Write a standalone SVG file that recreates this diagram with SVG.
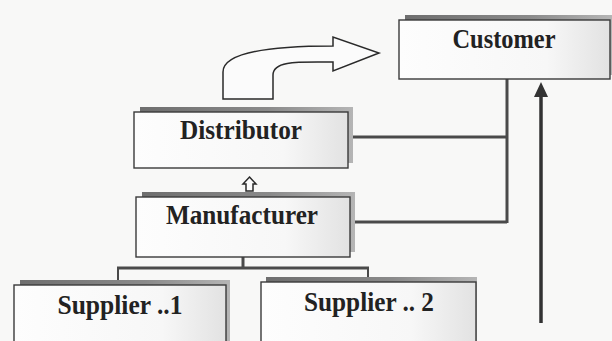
<svg xmlns="http://www.w3.org/2000/svg" width="612" height="341" viewBox="0 0 612 341">
<style>
.box{fill:url(#boxfill);stroke:#3a3a3a;stroke-width:1.4}
.shadow{fill:url(#shade)}
.lbl{font-family:"Liberation Serif","Times New Roman",serif;font-weight:bold;font-size:28px;fill:#222;text-anchor:middle}
.conn{fill:none;stroke:#4a4a4a;stroke-width:3}
.thin{fill:none;stroke:#4a4a4a;stroke-width:2}
.outline{fill:#fbfbfb;stroke:#2a2a2a;stroke-width:1.5;stroke-linejoin:miter}
</style>
<defs>
<linearGradient id="shade" x1="0" y1="0" x2="1" y2="0">
<stop offset="0" stop-color="#6e6e6e"/>
<stop offset="0.6" stop-color="#8a8a8a"/>
<stop offset="1" stop-color="#b5b5b5"/>
</linearGradient>
<linearGradient id="boxfill" x1="0" y1="0" x2="1" y2="0">
<stop offset="0" stop-color="#fdfdfd"/>
<stop offset="0.7" stop-color="#f7f7f7"/>
<stop offset="1" stop-color="#e2e2e2"/>
</linearGradient>
</defs>
<rect width="612" height="341" fill="#f8f8f7"/>

<g id="connectors">
<path class="conn" d="M350,137 H507 M350,222 H507 M507,79 V223"/>
<path class="conn" d="M243,257 V268 M117,268 H369"/>
<path class="thin" d="M118,268 V285 M368,268 V282"/>
<path class="outline" d="M223,99 V72 C223,55 260,46 333,46 V37 L379,53 L333,71 V62 C300,62 273,60 273,75 V99 Z"/>
<path class="outline" stroke-width="1.5" d="M249.5,177 L256,184 L253,184 L253,191 L246,191 L246,184 L243,184 Z"/>
<line x1="541" y1="323" x2="541" y2="95" stroke="#333" stroke-width="3.5"/>
<polygon points="541,82 548,97 534,97" fill="#333"/>
</g>

<g id="customer">
<rect class="shadow" x="405" y="15" width="207" height="60"/>
<rect class="box" x="399" y="20" width="211" height="59"/>
<text class="lbl" x="504" y="48" textLength="103" lengthAdjust="spacingAndGlyphs">Customer</text>
</g>

<g id="distributor">
<rect class="shadow" x="140" y="107" width="213" height="56"/>
<rect class="box" x="134" y="112" width="214" height="56"/>
<text class="lbl" x="241" y="139" textLength="122" lengthAdjust="spacingAndGlyphs">Distributor</text>
</g>

<g id="manufacturer">
<rect class="shadow" x="142" y="192" width="213" height="60"/>
<rect class="box" x="136" y="197" width="214" height="60"/>
<text class="lbl" x="242" y="224" textLength="152" lengthAdjust="spacingAndGlyphs">Manufacturer</text>
</g>

<g id="supplier1">
<rect class="shadow" x="20" y="280" width="210" height="70"/>
<rect class="box" x="14" y="285" width="212" height="70"/>
<text class="lbl" x="120" y="314" textLength="125" lengthAdjust="spacingAndGlyphs">Supplier ..1</text>
</g>

<g id="supplier2">
<rect class="shadow" x="266" y="277" width="211" height="70"/>
<rect class="box" x="261" y="282" width="215" height="70"/>
<text class="lbl" x="369" y="311" textLength="130" lengthAdjust="spacingAndGlyphs">Supplier .. 2</text>
</g>
</svg>
